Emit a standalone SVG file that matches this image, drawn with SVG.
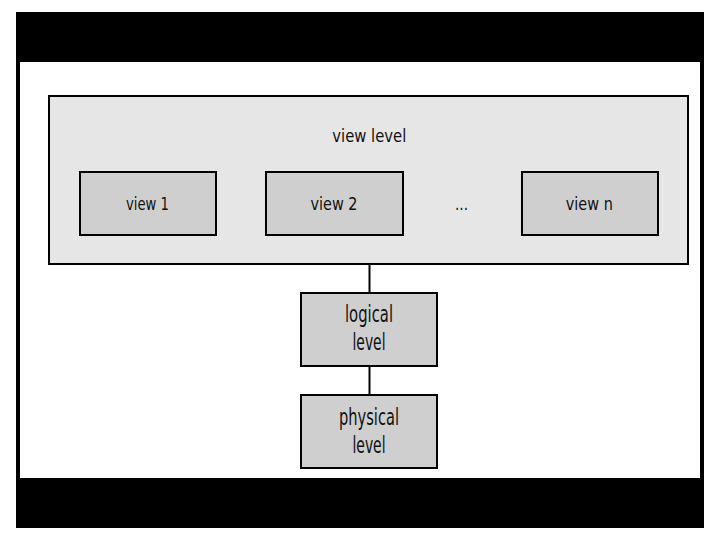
<svg xmlns="http://www.w3.org/2000/svg" width="720" height="540" viewBox="0 0 720 540">
<style>
.box{stroke:#000;stroke-width:2}
.outer{fill:#e6e6e7}
.inner{fill:#cfcfcf}
.t{font-family:"DejaVu Sans Condensed","Liberation Sans",sans-serif;fill:#111;text-anchor:middle}
.s{font-size:18.5px}
.b{font-size:23px}
.conn{stroke:#000;stroke-width:2;fill:none}
</style>
<rect x="0" y="0" width="720" height="540" fill="#fff"/>
<rect x="16" y="12" width="688" height="516" fill="#000"/>
<rect x="20" y="62" width="680" height="416" fill="#fff"/>
<g id="connectors">
<line class="conn" x1="369.5" y1="264" x2="369.5" y2="293"/>
<line class="conn" x1="369.5" y1="366" x2="369.5" y2="395"/>
</g>
<g id="view-level">
<rect class="box outer" x="49" y="96" width="639" height="168"/>
<text class="t s" x="369.3" y="141.5" textLength="74" lengthAdjust="spacingAndGlyphs">view level</text>
</g>
<g id="view1">
<rect class="box inner" x="80" y="172" width="136" height="63"/>
<text class="t s" x="147.5" y="209.5" textLength="43" lengthAdjust="spacingAndGlyphs">view 1</text>
</g>
<g id="view2">
<rect class="box inner" x="266" y="172" width="137" height="63"/>
<text class="t s" x="334" y="210" textLength="47" lengthAdjust="spacingAndGlyphs">view 2</text>
</g>
<g id="ellipsis">
<text class="t s" x="461.5" y="209.5" textLength="13" lengthAdjust="spacingAndGlyphs">...</text>
</g>
<g id="viewn">
<rect class="box inner" x="522" y="172" width="136" height="63"/>
<text class="t s" x="589.3" y="209.5" textLength="47" lengthAdjust="spacingAndGlyphs">view n</text>
</g>
<g id="logical">
<rect class="box inner" x="301" y="293" width="136" height="73"/>
<text class="t b" x="369" y="322" textLength="48" lengthAdjust="spacingAndGlyphs">logical</text>
<text class="t b" x="369" y="350" textLength="33" lengthAdjust="spacingAndGlyphs">level</text>
</g>
<g id="physical">
<rect class="box inner" x="301" y="395" width="136" height="73"/>
<text class="t b" x="369" y="425" textLength="60" lengthAdjust="spacingAndGlyphs">physical</text>
<text class="t b" x="369" y="453" textLength="33" lengthAdjust="spacingAndGlyphs">level</text>
</g>
</svg>
